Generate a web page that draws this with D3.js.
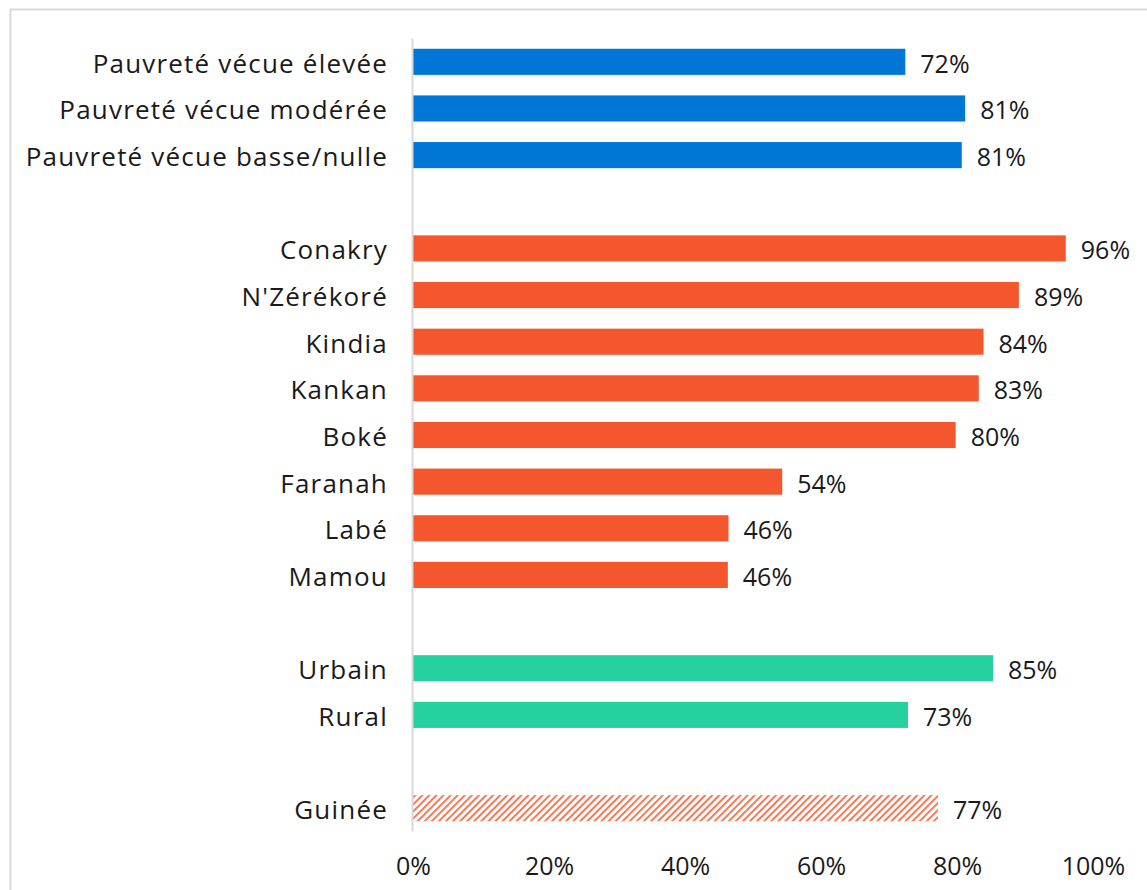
<!DOCTYPE html>
<html>
<head>
<meta charset="utf-8">
<script src="https://cdn.jsdelivr.net/npm/d3@7"></script>
<style>
  body { margin: 0; background: #fff; }
  text { font-family: "Open Sans", sans-serif; fill: #1a1a1a; }
</style>
</head>
<body>
<div id="chart"></div>
<script>
// data, one small array per group
var povertyLabels = ["Pauvreté vécue élevée", "Pauvreté vécue modérée", "Pauvreté vécue basse/nulle"];
var povertyValues = [0.724, 0.812, 0.807];
var regionLabels = ["Conakry", "N'Zérékoré", "Kindia", "Kankan", "Boké", "Faranah", "Labé", "Mamou"];
var regionValues = [0.960, 0.891, 0.839, 0.832, 0.798, 0.543, 0.464, 0.463];
var areaLabels = ["Urbain", "Rural"];
var areaValues = [0.853, 0.728];
var nationLabels = ["Guinée"];
var nationValues = [0.772];
var tickValues = [0, 0.2, 0.4, 0.6, 0.8, 1];

var BLUE = "#0077d6", ORANGE = "#f4572d", GREEN = "#25d29f";

// build rows, with an empty row between groups
var groups = [
  {labels: povertyLabels, values: povertyValues, fill: BLUE},
  {labels: regionLabels, values: regionValues, fill: ORANGE},
  {labels: areaLabels, values: areaValues, fill: GREEN},
  {labels: nationLabels, values: nationValues, fill: "url(#hatch)"}
];
var rows = [];
groups.forEach(function(g, gi) {
  if (gi > 0) rows.push({id: "gap" + gi, label: "", value: null});
  g.labels.forEach(function(l, i) {
    rows.push({id: l, label: l, value: g.values[i], fill: g.fill});
  });
});

var width = 1147, height = 890;
var margin = {top: 38.5, left: 413, right: 54, bottom: 58.5};

var svg = d3.select("#chart")
  .append("svg")
  .attr("width", width)
  .attr("height", height);

// hatch pattern for the national bar
var defs = svg.append("defs");
defs.append("pattern")
  .attr("id", "hatch")
  .attr("patternUnits", "userSpaceOnUse")
  .attr("width", 5)
  .attr("height", 5)
  .attr("patternTransform", "rotate(45)")
  .append("line")
  .attr("x1", 1).attr("y1", 0)
  .attr("x2", 1).attr("y2", 5)
  .attr("stroke", ORANGE)
  .attr("stroke-width", 1.6);

// outer frame (runs off the picture on the right and bottom)
svg.append("rect")
  .attr("x", 10.5)
  .attr("y", 9.5)
  .attr("width", 1200)
  .attr("height", 1000)
  .attr("fill", "none")
  .attr("stroke", "#d9d9d9")
  .attr("stroke-width", 2);

var x = d3.scaleLinear()
  .domain([0, 1])
  .range([margin.left, width - margin.right]);

var y = d3.scaleBand()
  .domain(rows.map(d => d.id))
  .range([margin.top, height - margin.bottom])
  .paddingInner(0.44)
  .paddingOuter(0.22);

// X axis (labels only)
var xAxis = svg.append("g")
  .attr("transform", "translate(0," + (height - margin.bottom) + ")")
  .call(d3.axisBottom(x)
    .tickValues(tickValues)
    .tickFormat(d3.format(".0%"))
    .tickSize(0)
    .tickPadding(0));
xAxis.select(".domain").remove();
xAxis.selectAll("text")
  .attr("dy", null)
  .attr("y", 43.5)
  .style("font-family", "Open Sans")
  .style("font-size", "25px")
  .attr("fill", "#1a1a1a");

// bars
svg.selectAll("rect.bar")
  .data(rows.filter(d => d.value !== null))
  .enter()
  .append("rect")
  .attr("class", "bar")
  .attr("x", x(0))
  .attr("y", d => y(d.id))
  .attr("width", d => x(d.value) - x(0))
  .attr("height", y.bandwidth())
  .attr("fill", d => d.fill);

// vertical axis line
svg.append("line")
  .attr("x1", x(0) - 0.5)
  .attr("x2", x(0) - 0.5)
  .attr("y1", margin.top)
  .attr("y2", height - margin.bottom)
  .attr("stroke", "#d9d9d9")
  .attr("stroke-width", 2);

// category labels
svg.selectAll("text.cat")
  .data(rows.filter(d => d.label !== ""))
  .enter()
  .append("text")
  .attr("class", "cat")
  .attr("x", x(0) - 25)
  .attr("y", d => y(d.id) + y.bandwidth() / 2 + 11)
  .attr("text-anchor", "end")
  .style("font-size", "26px")
  .style("letter-spacing", "1.2px")
  .text(d => d.label);

// value labels
svg.selectAll("text.val")
  .data(rows.filter(d => d.value !== null))
  .enter()
  .append("text")
  .attr("class", "val")
  .attr("x", d => x(d.value) + 15)
  .attr("y", d => y(d.id) + y.bandwidth() / 2 + 11)
  .style("font-size", "25px")
  .text(d => Math.round(d.value * 100) + "%");
</script>
</body>
</html>
